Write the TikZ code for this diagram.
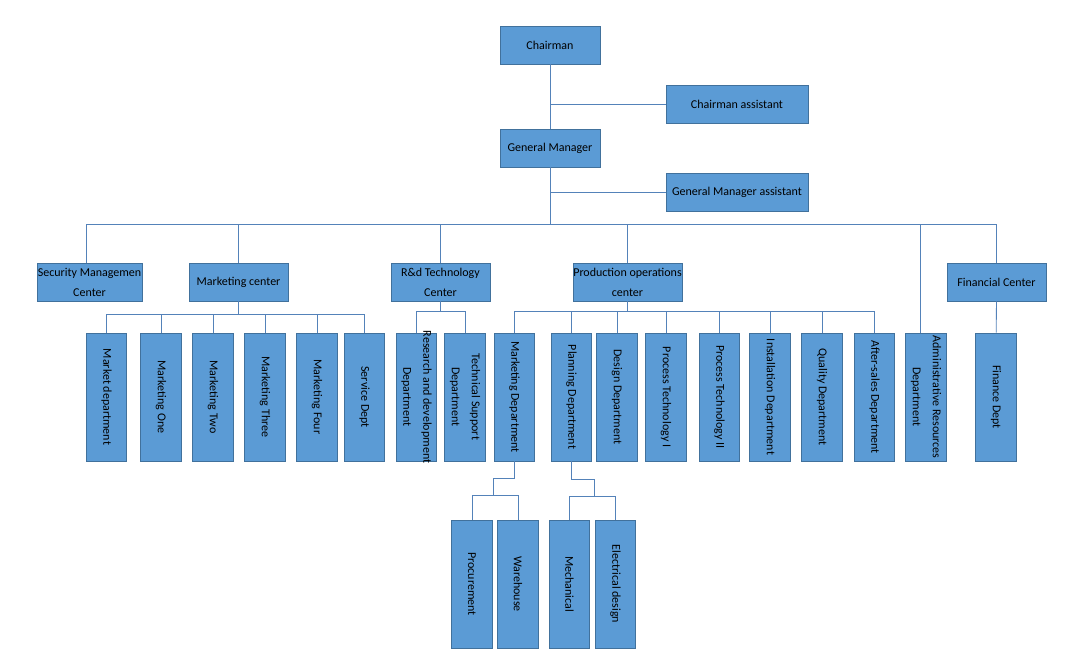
\documentclass[tikz,border=0pt]{standalone}
\usepackage{fontspec}
\setmainfont{Carlito}
\usetikzlibrary{positioning}
\definecolor{orgFill}{RGB}{91,155,213}
\definecolor{orgEdge}{RGB}{65,113,156}
\definecolor{orgLine}{RGB}{84,130,185}

\begin{document}
\begin{tikzpicture}[x=1pt, y=-1pt,
				box/.style={draw=orgEdge, fill=orgFill, line width=0.8pt, inner sep=0pt, minimum height=38, align=center, font=\fontsize{12}{20}\selectfont},
				vbox/.style={box, minimum width=40.5, minimum height=128, label={[rotate=-90, align=center, font=\fontsize{12}{20}\selectfont]center:#1}},
				link/.style={draw=orgLine, line width=0.8pt}]
				\useasboundingbox (0,0) rectangle (1073,662);
				% top of the chart
				\node[box, minimum width=100] (ch) at (550,45) {Chairman};
				\node[box, minimum width=142] (ca) at (737,104) {Chairman assistant};
				\node[box, minimum width=100] (gm) at (550,148) {General Manager};
				\node[box, minimum width=142] (ga) at (737,192) {General Manager assistant};
				% centers
				\node[box, minimum width=105] (sec) at (89.5,282) {Security Managemen\\Center};
				\node[box, minimum width=99] (mc) at (238.5,282) {Marketing center};
				\node[box, minimum width=99] (rd) at (440.5,282) {R\&d Technology\\Center};
				\node[box, minimum width=109] (po) at (627.5,282) {Production operations\\center};
				\node[box, minimum width=99] (fc) at (996.5,282) {Financial Center};
				% departments
				\node[vbox={Market department}] (md) at (106.5,397) {};
				\node[vbox={Marketing One}] (m1) at (161,397) {};
				\node[vbox={Marketing Two}] (m2) at (213,397) {};
				\node[vbox={Marketing Three}] (m3) at (265,397) {};
				\node[vbox={Marketing Four}] (m4) at (317,397) {};
				\node[vbox={Service Dept}] (sd) at (364.5,397) {};
				\node[vbox={Research and development\\Department}] (rdd) at (416.5,397) {};
				\node[vbox={Technical Support\\Department}] (tsd) at (465,397) {};
				\node[vbox={Marketing Department}] (mkd) at (514.5,397) {};
				\node[vbox={Planning Department}] (pld) at (571.5,397) {};
				\node[vbox={Design Department}] (dsd) at (617,397) {};
				\node[vbox={Process Technology I}] (pt1) at (666,397) {};
				\node[vbox={Process Technology II}] (pt2) at (719.5,397) {};
				\node[vbox={Installation Department}] (ins) at (770,397) {};
				\node[vbox={Quality Department}] (qd) at (822,397) {};
				\node[vbox={After-sales Department}] (asd) at (874.5,397) {};
				\node[vbox={Administrative Resources\\Department}] (adm) at (926,397) {};
				\node[vbox={Finance Dept}] (fd) at (996,397) {};
				% sub-departments
				\node[vbox={Procurement}] (pro) at (472,584) {};
				\node[vbox={Warehouse}] (wh) at (518,584) {};
				\node[vbox={Mechanical}] (mech) at (569.5,584) {};
				\node[vbox={Electrical design}] (ele) at (615.5,584) {};
				% connectors
				\coordinate (bus) at (550,224);
				\coordinate (mkj) at (493,495);
				\coordinate (plj) at (594,496);
				\draw[link] (ch) -- (gm);
				\draw[link] (ca.west) -- (ca.west -| ch.south);
				\draw[link] (ga.west) -- (ga.west -| gm.south);
				\draw[link] (gm) -- (bus);
				\draw[link] (bus) -| ([xshift=-3.5]sec.north);
				\draw[link] (bus) -| ([xshift=-5.5]adm.north);
				\foreach \n in {mc,rd,po,fc}
					\draw[link] (bus) -| (\n.north);
				\foreach \n in {md,m1,m2,m3,m4,sd}
					\draw[link] (mc.south) -- ++(0,13) -| (\n.north);
				\foreach \n in {rdd,tsd}
					\draw[link] (rd.south) -- ++(0,10) -| (\n.north);
				\foreach \n in {mkd,pld,dsd,pt1,pt2,ins,qd,asd}
					\draw[link] (po.south) -- ++(0,10) -| (\n.north);
				\draw[link] (fc) -- (fd);
				\draw[link] (mkd.south) -- ++(0,17) -| (mkj);
				\foreach \n in {pro,wh}
					\draw[link] (mkj) -| (\n.north);
				\draw[link] (pld.south) -- ++(0,18) -| (plj);
				\foreach \n in {mech,ele}
					\draw[link] (plj) -| (\n.north);
\end{tikzpicture}
\end{document}
